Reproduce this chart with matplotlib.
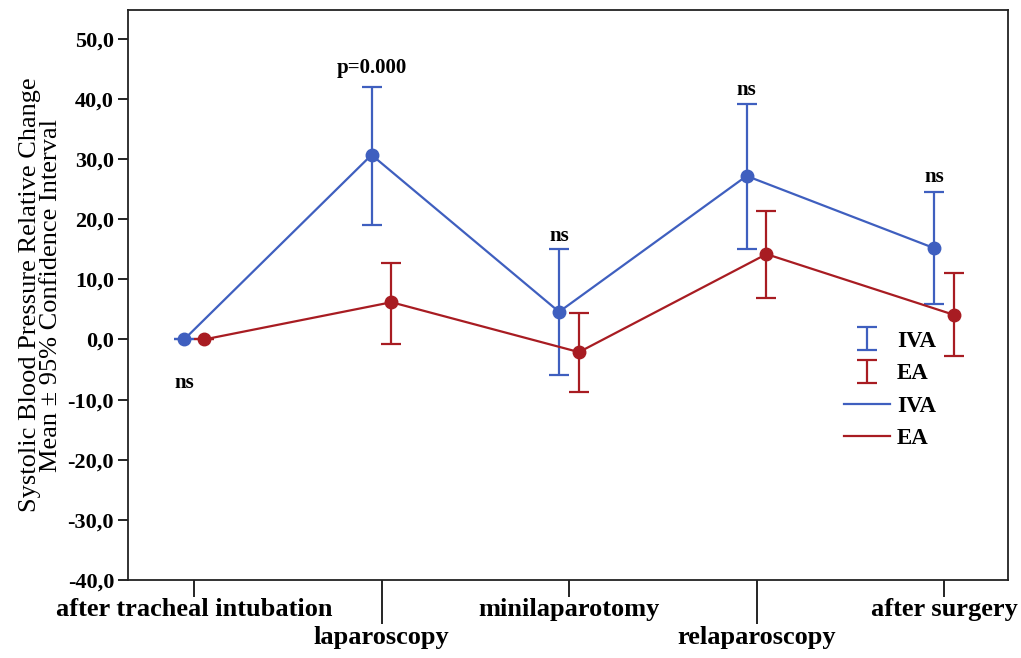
import matplotlib

matplotlib.use("Agg")
import matplotlib.pyplot as plt
from matplotlib.ticker import FuncFormatter

# stages along the x axis
stages = ["after tracheal intubation", "laparoscopy", "minilaparotomy",
          "relaparoscopy", "after surgery"]

# IVA group: mean and 95% CI bounds
iva_mean = [0.0, 30.7, 4.6, 27.2, 15.2]
iva_low = [0.0, 19.0, -5.9, 15.1, 5.9]
iva_high = [0.0, 42.0, 15.1, 39.2, 24.5]

# EA group
ea_mean = [0.0, 6.2, -2.1, 14.2, 4.1]
ea_low = [0.0, -0.7, -8.7, 6.9, -2.7]
ea_high = [0.0, 12.7, 4.4, 21.4, 11.1]

# significance notes: (stage index, y, text)
notes = [(0, -7.3, "ns"), (1, 45.2, "p=0.000"), (2, 17.2, "ns"),
         (3, 41.5, "ns"), (4, 27.0, "ns")]

BLUE = "#3f5fbf"
RED = "#a81c22"
SERIF = ["Liberation Serif", "DejaVu Serif"]

plt.rcParams["font.family"] = SERIF

fig = plt.figure(figsize=(10.21, 6.58), dpi=100)
ax = fig.add_axes([128 / 1021, 1 - 580 / 658, 880 / 1021, 570 / 658])

off = 0.053
x = list(range(len(stages)))
x_iva = [v - off for v in x]
x_ea = [v + off for v in x]


def err(mean, low, high):
    return [[m - l for m, l in zip(mean, low)], [h - m for m, h in zip(mean, high)]]


eb_iva = ax.errorbar(x_iva, iva_mean, yerr=err(iva_mean, iva_low, iva_high), fmt="none",
                     ecolor=BLUE, elinewidth=1.6, capsize=7, capthick=1.6, zorder=3)
eb_ea = ax.errorbar(x_ea, ea_mean, yerr=err(ea_mean, ea_low, ea_high), fmt="none",
                    ecolor=RED, elinewidth=1.6, capsize=7, capthick=1.6, zorder=3)
ln_iva, = ax.plot(x_iva, iva_mean, "-", color=BLUE, lw=1.6, zorder=4)
ln_ea, = ax.plot(x_ea, ea_mean, "-", color=RED, lw=1.6, zorder=4)
ax.plot(x_iva, iva_mean, "o", color=BLUE, ms=9, zorder=5)
ax.plot(x_ea, ea_mean, "o", color=RED, ms=9, zorder=5)

for i, y, t in notes:
    ax.text(i - off, y, t, ha="center", va="center", fontsize=15, fontweight="bold")

ax.set_xlim(-0.352, 4.341)
ax.set_ylim(-40, 54.8)
ax.set_yticks(range(-40, 51, 10))
ax.yaxis.set_major_formatter(FuncFormatter(lambda v, p: f"{v:.1f}".replace(".", ",")))

# staggered category labels: even stages on short ticks, odd on long ticks
ax.set_xticks([0, 2, 4])
ax.set_xticklabels([stages[0], stages[2], stages[4]])
ax.set_xticks([1, 3], minor=True)
ax.set_xticklabels([stages[1], stages[3]], minor=True)
ax.tick_params(axis="x", which="major", length=12, width=1.2, pad=1, labelsize=19)
ax.tick_params(axis="x", which="minor", length=32, width=1.2, pad=1, labelsize=19)
ax.tick_params(axis="y", length=7, width=1.2, pad=3, labelsize=16)
for lab in ax.get_xticklabels(which="both") + ax.get_yticklabels():
    lab.set_fontweight("bold")

for s in ax.spines.values():
    s.set_linewidth(1.3)
    s.set_color("#222222")

ax.set_ylabel("Systolic Blood Pressure Relative Change\nMean \u00b1 95% Confidence Interval",
              fontsize=19, linespacing=0.95, labelpad=4)

leg = ax.legend(handles=[eb_iva, eb_ea, ln_iva, ln_ea], labels=["IVA", "EA", "IVA", "EA"],
                loc="center", bbox_to_anchor=(0.866, 0.333), frameon=False,
                prop={"family": SERIF, "weight": "bold", "size": 16.5},
                handlelength=2.0, labelspacing=0.5, handletextpad=0.3)

fig.savefig("out.png", dpi=100)
